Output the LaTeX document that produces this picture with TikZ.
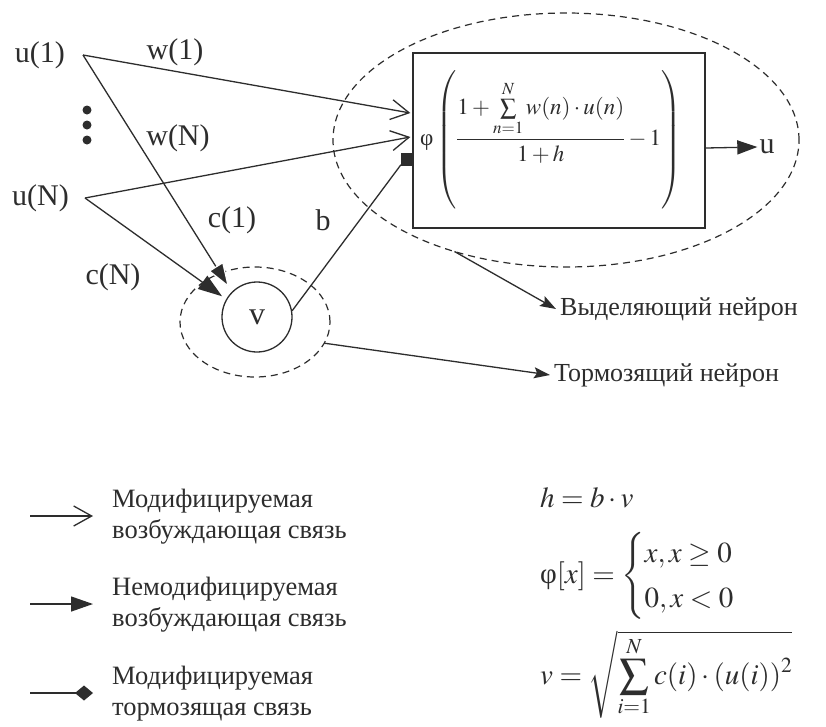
\documentclass[tikz,border=0pt]{standalone}
\usepackage{amsmath}
\usepackage{mathptmx}
\usepackage[no-math]{fontspec}
\setmainfont{Liberation Serif}
\usetikzlibrary{arrows.meta,shapes.geometric,positioning}
\definecolor{ink}{RGB}{45,45,45}
\tikzset{
  lab/.style={font=\fontsize{30}{36}\selectfont, text=ink, inner sep=2pt},
  ann/.style={font=\fontsize{26}{31}\selectfont, text=ink, anchor=west, inner sep=4pt},
  leg/.style={font=\fontsize{26.5}{31}\selectfont, text=ink, anchor=west, align=left, inner sep=0pt},
  fm/.style={font=\fontsize{29}{38}\selectfont, text=ink, inner sep=0pt},
  conn/.style={draw=ink, line width=1.3pt},
  openarr/.style={conn, -{Straight Barb[length=18pt,width=20pt]}},
  fillarr/.style={conn, -{Triangle[length=24pt,width=16pt]}},
  outarr/.style={conn, -{Triangle[length=20pt,width=14pt]}},
  annarr/.style={conn, -{Stealth[length=16pt,width=11pt,inset=3pt]}},
  dashell/.style={draw=ink, dash pattern=on 7pt off 5pt, line width=1.2pt, ellipse, inner sep=0pt, outer sep=0pt},
}
\begin{document}
\begin{tikzpicture}[x=1pt,y=-1pt]
\useasboundingbox (0,0) rectangle (826,726);
\fill[white] (0,0) rectangle (826,726);

% inputs
\coordinate (p1) at (83,55);
\coordinate (pN) at (85,198);
\node[lab, left=16pt of p1] (u1) {u(1)};
\node[lab, left=14pt of pN] (uN) {u(N)};
\fill[ink] (87,110) circle (4.5pt) (87,125) circle (4.5pt) (87,140) circle (4.5pt);

% exciting neuron
\node[dashell, minimum width=466pt, minimum height=254pt] (bell) at (566,140) {};
\node[conn, rectangle, minimum width=292pt, minimum height=175pt, inner sep=0pt, fill=white] (nbox) at (559,140.5) {};
\node[font=\fontsize{23}{28}\selectfont, text=ink, anchor=west, inner sep=0pt] (fml) at (420,140)
  {$\mbox{φ}\left(\vrule height 64pt depth 64pt width 0pt\displaystyle\frac{1+\sum\limits_{n=1}^{N} w(n)\cdot u(n)}{1+h}-1\right)$};
\node[fill=ink, minimum width=11pt, minimum height=13pt, inner sep=0pt, anchor=east] (sq) at ([yshift=-18.5pt]nbox.west) {};
\coordinate (in1) at ([yshift=27.5pt,xshift=-2pt]nbox.west);
\coordinate (inN) at ([yshift=3.5pt,xshift=-2pt]nbox.west);
\node[lab] (uout) at (767,147) {u};
\draw[outarr] ([yshift=-7.5pt]nbox.east) -- (uout.west);

% inhibiting neuron
\node[dashell, minimum width=150pt, minimum height=110pt] (vell) at (255,322) {};
\node[conn, circle, minimum size=70pt, inner sep=0pt, font=\fontsize{32}{38}\selectfont, text=ink] (v) at (257,317) {v};

% connections
\draw[openarr] (p1) -- (in1);
\draw[openarr] (pN) -- (inN);
\draw[fillarr, shorten >=5pt] (pN) -- (v.150);
\draw[conn, -{Triangle[length=25pt,width=17pt,line width=1.2pt,fill=ink,color=white]}, shorten >=5pt] (p1) -- (v.135);
\draw[conn] (v.10) -- (sq.225);

% labels
\node[lab] (lw1) at (175,52) {w(1)};
\node[lab] (lwN) at (178,138) {w(N)};
\node[lab] (lc1) at (232,220) {c(1)};
\node[lab] (lb) at (323,220) {b};
\node[lab] (lcN) at (113,277) {c(N)};

% annotations
\node[ann] (t1) at (556,309) {Выделяющий нейрон};
\node[ann] (t2) at (550,375) {Тормозящий нейрон};
\draw[annarr] (bell.225) -- (t1.west);
\draw[annarr] (vell.-17) -- (t2.west);

% legend
\coordinate (a1) at (30,516); \coordinate (b1) at (93,516);
\coordinate (a2) at (30,604); \coordinate (b2) at (93,604);
\coordinate (a3) at (30,693); \coordinate (b3) at (93,693);
\draw[openarr] (a1) -- (b1);
\draw[conn, -{Triangle[length=22pt,width=15pt]}] (a2) -- (b2);
\draw[conn, -{Diamond[length=18pt,width=15pt]}] (a3) -- (b3);
\node[leg] (l1) at (112,517) {Модифицируемая\\возбуждающая связь};
\node[leg] (l2) at (112,605) {Немодифицируемая\\возбуждающая связь};
\node[leg] (l3) at (112,694) {Модифицируемая\\тормозящая связь};

% formulas
\node[fm, anchor=base west] (f1) at (540,507) {$h = b\cdot v$};
\node[fm, anchor=base west] (f2) at (540,583) {$\mbox{φ}[x] = \begin{cases}x, x\ge 0\\ 0, x<0\end{cases}$};
\node[fm, anchor=base west] (f3) at (540,684) {$v = \sqrt{\displaystyle\sum_{i=1}^{N} c(i)\cdot(u(i))^2}$};
\end{tikzpicture}
\end{document}
